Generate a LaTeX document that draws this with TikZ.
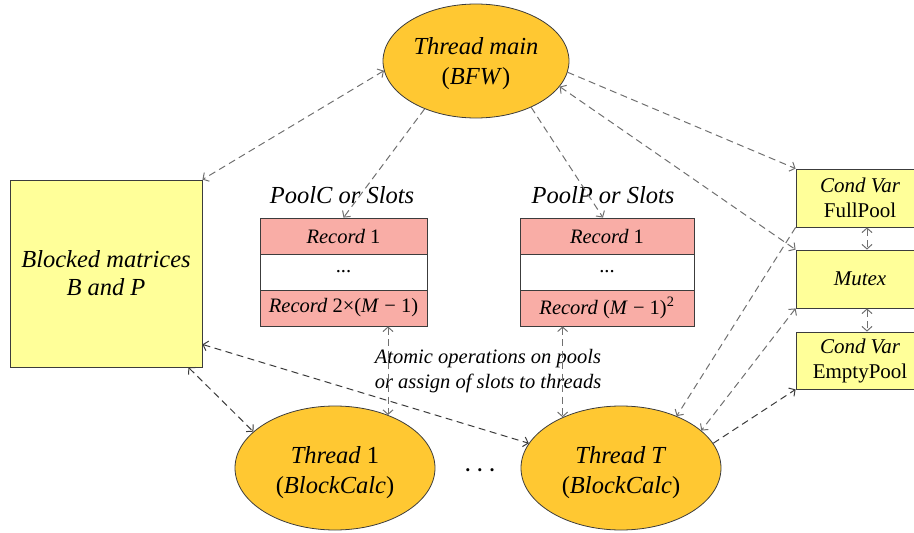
\documentclass[tikz,border=0pt]{standalone}
\usepackage{fontspec}
\setmainfont{Liberation Serif}
\usetikzlibrary{shapes.geometric,arrows.meta}
\definecolor{thrfill}{RGB}{255,200,50}
\definecolor{boxfill}{RGB}{255,255,153}
\definecolor{recfill}{RGB}{249,173,166}
\definecolor{edgecol}{RGB}{60,60,60}
\definecolor{linkgray}{RGB}{112,112,112}
\tikzset{
  thr/.style={ellipse, draw=edgecol, fill=thrfill, minimum width=200pt, minimum height=124pt,
    inner sep=0pt, line width=0.8pt},
  thrtext/.style={align=center, font=\fontsize{24.5}{30}\selectfont, inner sep=0pt},
  shared/.style={draw=edgecol, fill=boxfill, inner sep=0pt, align=center, line width=0.8pt},
  rec/.style={draw=edgecol, fill=recfill, minimum height=36pt, inner sep=0pt,
    font=\fontsize{20.5}{24}\selectfont, line width=0.8pt},
  link/.style={draw=linkgray, dash pattern=on 7pt off 4.5pt, line width=1pt},
  darklink/.style={link, draw=edgecol},
  poollabel/.style={font=\fontsize{24.5}{28}\selectfont\itshape},
}
\begin{document}
\begin{tikzpicture}[x=1pt,y=-1pt,>={Straight Barb[length=4.5pt,width=10pt]}]
\useasboundingbox (0,0) rectangle (914,533);
\clip (0,0) rectangle (914,533);

% threads
\node[thr, minimum width=186pt, minimum height=114pt] (main) at (476,61) {};
\node[thrtext] (maintext) at ([yshift=-3pt]main.center) {\textit{Thread main}\\(\textit{BFW})};
\node[thr] (t1) at (335,468) {};
\node[thrtext] (t1text) at ([yshift=-5pt]t1.center) {\textit{Thread} 1\\(\textit{BlockCalc})};
\node[thr] (tT) at (621,468) {};
\node[thrtext] (tTtext) at ([yshift=-5pt]tT.center) {\textit{Thread T}\\(\textit{BlockCalc})};
\node[font=\fontsize{13}{13}\selectfont, inner sep=0pt] (dots) at (480,472)
  {•\hspace{7.5pt}•\hspace{7.5pt}•};

% shared matrices
\node[shared, minimum width=192pt, minimum height=187pt, font=\fontsize{24.5}{28}\selectfont]
  (blk) at (106,273.5) {\textit{Blocked matrices}\\\textit{B and P}};

% pool C
\node[poollabel] (lc) at (342,195) {PoolC or Slots};
\node[rec, minimum width=167pt] (c1) at (343.5,236) {\textit{Record} 1};
\node[rec, minimum width=167pt, fill=white] (c2) at (343.5,272) {...};
\node[rec, minimum width=167pt] (c3) at (343.5,308) {\textit{Record} 2×(\textit{M} − 1)};

% pool P
\node[poollabel] (lp) at (603,195) {PoolP or Slots};
\node[rec, minimum width=174pt] (p1) at (607,236) {\textit{Record} 1};
\node[rec, minimum width=174pt, fill=white] (p2) at (607,272) {...};
\node[rec, minimum width=174pt] (p3) at (607,308) {\textit{Record} (\textit{M} − 1)\textsuperscript{2}};

% synchronisation objects
\node[shared, minimum width=128pt, minimum height=58pt, font=\fontsize{21}{25}\selectfont]
  (full) at (860,198) {\textit{Cond Var}\\FullPool};
\node[shared, minimum width=128pt, minimum height=58pt, font=\fontsize{21}{25}\selectfont]
  (mutex) at (860,279) {\textit{Mutex}};
\node[shared, minimum width=128pt, minimum height=57pt, font=\fontsize{21}{25}\selectfont]
  (empty) at (860,360.5) {\textit{Cond Var}\\EmptyPool};

\node[font=\fontsize{20.5}{25}\selectfont\itshape, align=center] (atom) at (488,371)
  {Atomic operations on pools\\or assign of slots to threads};

% connectors
\draw[link,<->] (main.186) -- (blk.north east);
\draw[link,->] (main.223) -- (c1.north);
\draw[link,->] (main.320) -- ([xshift=-4pt]p1.north);
\draw[link,->] (main.353) -- (full.north west);
\draw[link,<->] (main.343) -- (mutex.north west);
\draw[link,->] (full.south west) -- (tT.43);
\draw[link,<->] (mutex.south west) -- (tT.25);
\draw[darklink,->] (tT.15) -- (empty.south west);
\draw[link,<->] ([xshift=7pt]full.south) -- ([xshift=7pt]mutex.north);
\draw[link,<->] ([xshift=7pt]mutex.south) -- ([xshift=7pt]empty.north);
\draw[link,<->] (t1.45 |- c3.south) -- (t1.45);
\draw[link,<->] (tT.139 |- p3.south) -- (tT.139);
\draw[darklink,<->] ([yshift=23pt]blk.south east) -- (tT.165);
\draw[darklink,<->] ([xshift=-14pt]blk.south east) -- (t1.156);
\end{tikzpicture}
\end{document}
